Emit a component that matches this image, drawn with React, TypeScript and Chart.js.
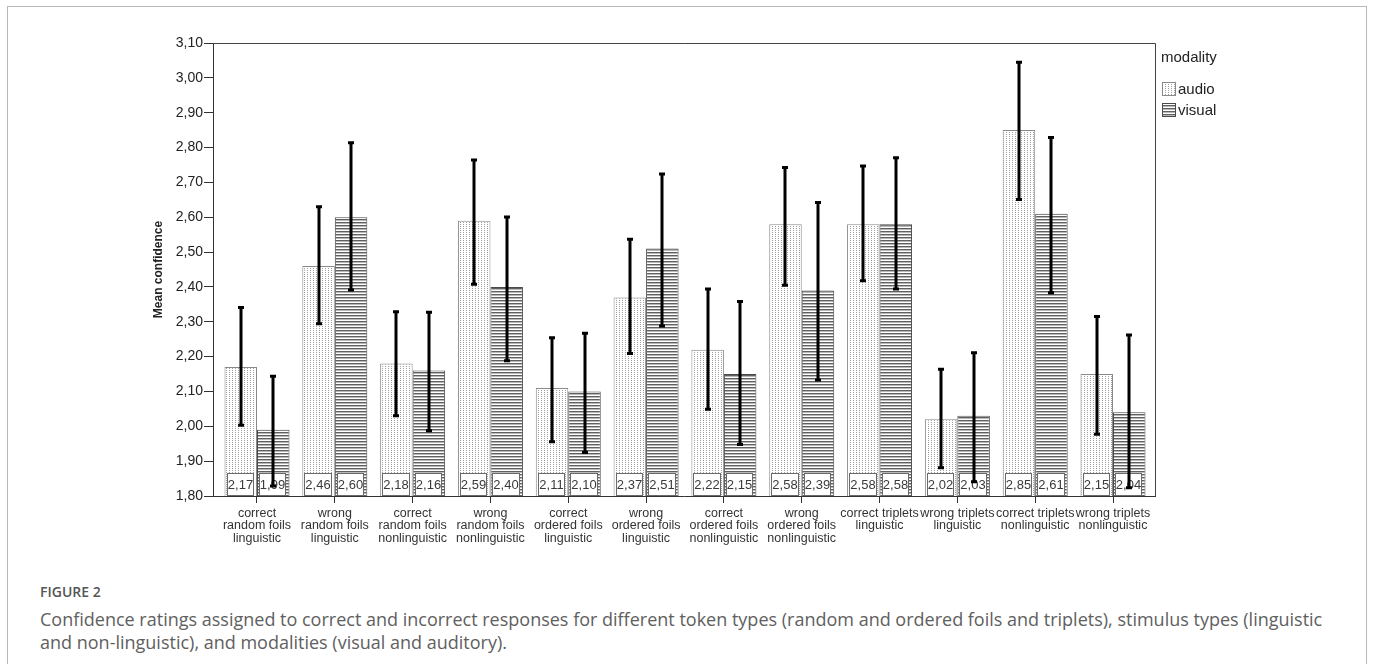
import React, { useEffect, useRef } from 'react';
import { Chart, registerables } from 'chart.js';

Chart.register(...registerables);

const CATEGORIES: string[][] = [
  ['correct', 'random foils', 'linguistic'],
  ['wrong', 'random foils', 'linguistic'],
  ['correct', 'random foils', 'nonlinguistic'],
  ['wrong', 'random foils', 'nonlinguistic'],
  ['correct', 'ordered foils', 'linguistic'],
  ['wrong', 'ordered foils', 'linguistic'],
  ['correct', 'ordered foils', 'nonlinguistic'],
  ['wrong', 'ordered foils', 'nonlinguistic'],
  ['correct triplets', 'linguistic'],
  ['wrong triplets', 'linguistic'],
  ['correct triplets', 'nonlinguistic'],
  ['wrong triplets', 'nonlinguistic'],
];

const SERIES_NAMES = ['audio', 'visual'];
const LEGEND_TITLE = 'modality';

const AUDIO_MEANS = [2.17, 2.46, 2.18, 2.59, 2.11, 2.37, 2.22, 2.58, 2.58, 2.02, 2.85, 2.15];
const VISUAL_MEANS = [1.99, 2.60, 2.16, 2.40, 2.10, 2.51, 2.15, 2.39, 2.58, 2.03, 2.61, 2.04];

const AUDIO_CI_LOW = [2.003, 2.294, 2.030, 2.408, 1.956, 2.209, 2.049, 2.405, 2.418, 1.881, 2.651, 1.977];
const AUDIO_CI_HIGH = [2.341, 2.630, 2.329, 2.764, 2.254, 2.537, 2.394, 2.743, 2.747, 2.164, 3.045, 2.315];
const VISUAL_CI_LOW = [1.829, 2.391, 1.987, 2.188, 1.925, 2.288, 1.948, 2.133, 2.394, 1.841, 2.383, 1.824];
const VISUAL_CI_HIGH = [2.144, 2.814, 2.327, 2.601, 2.267, 2.724, 2.358, 2.642, 2.771, 2.211, 2.829, 2.262];

const Y_TICKS = [1.8, 1.9, 2.0, 2.1, 2.2, 2.3, 2.4, 2.5, 2.6, 2.7, 2.8, 2.9, 3.0, 3.1];
const Y_TITLE = 'Mean confidence';

const CAPTION_LABEL = 'FIGURE 2';
const CAPTION_LINE_1 =
  'Confidence ratings assigned to correct and incorrect responses for different token types (random and ordered foils and triplets), stimulus types (linguistic';
const CAPTION_LINE_2 = 'and non-linguistic), and modalities (visual and auditory).';

const AXIS_FONT = '"Liberation Sans", Arial, Helvetica, sans-serif';

const fmt = (v: number) => v.toFixed(2).replace('.', ',');

function makeDotPattern(): CanvasPattern | string {
  const c = document.createElement('canvas');
  c.width = 3;
  c.height = 2;
  const g = c.getContext('2d');
  if (!g) return '#eee';
  g.fillStyle = '#ffffff';
  g.fillRect(0, 0, 3, 2);
  g.fillStyle = '#a0a0a0';
  g.fillRect(1, 0, 1, 1);
  const p = g.createPattern(c, 'repeat');
  return p || '#eee';
}

function makeStripePattern(): CanvasPattern | string {
  const c = document.createElement('canvas');
  c.width = 2;
  c.height = 3;
  const g = c.getContext('2d');
  if (!g) return '#999';
  g.fillStyle = '#ffffff';
  g.fillRect(0, 0, 2, 3);
  g.fillStyle = '#606060';
  g.fillRect(0, 0, 2, 1);
  g.fillStyle = '#b8b8b8';
  g.fillRect(0, 1, 2, 1);
  const p = g.createPattern(c, 'repeat');
  return p || '#999';
}

export default function App() {
  const canvasRef = useRef<HTMLCanvasElement | null>(null);

  useEffect(() => {
    const canvas = canvasRef.current;
    if (!canvas) return;
    const dotPattern = makeDotPattern();
    const stripePattern = makeStripePattern();

    const lows = [AUDIO_CI_LOW, VISUAL_CI_LOW];
    const highs = [AUDIO_CI_HIGH, VISUAL_CI_HIGH];
    const fills = [dotPattern, stripePattern];
    const borders = ['#8a8a8a', '#4a4a4a'];

    const overlay = {
      id: 'overlay',
      afterDatasetsDraw(chart: any) {
        const ctx: CanvasRenderingContext2D = chart.ctx;
        const area = chart.chartArea;
        const yScale = chart.scales.y;
        ctx.save();
        // value boxes at the bottom of each bar
        chart.data.datasets.forEach((ds: any, di: number) => {
          const meta = chart.getDatasetMeta(di);
          meta.data.forEach((bar: any, i: number) => {
            const { x, width } = bar.getProps(['x', 'width'], true);
            const l = Math.round(x - width / 2 + 2);
            const r = Math.round(x + width / 2 - 3);
            const bottom = Math.round(area.bottom);
            const top = bottom - 23;
            ctx.fillStyle = '#ffffff';
            ctx.fillRect(l, top, r - l, bottom - top);
            ctx.strokeStyle = '#6a6a6a';
            ctx.lineWidth = 1;
            ctx.strokeRect(l + 0.5, top + 0.5, r - l - 1, bottom - top - 1);
            ctx.fillStyle = '#3a3a3a';
            ctx.font = '13px ' + AXIS_FONT;
            ctx.textAlign = 'center';
            ctx.textBaseline = 'middle';
            ctx.fillText(fmt(ds.data[i].y), (l + r) / 2, (top + bottom) / 2 + 1);
          });
        });
        // error bars
        chart.data.datasets.forEach((_ds: any, di: number) => {
          const meta = chart.getDatasetMeta(di);
          meta.data.forEach((bar: any, i: number) => {
            const { x } = bar.getProps(['x'], true);
            const cx = Math.round(x);
            const yl = yScale.getPixelForValue(lows[di][i]);
            const yh = yScale.getPixelForValue(highs[di][i]);
            ctx.strokeStyle = '#000000';
            ctx.lineWidth = 3;
            ctx.beginPath();
            ctx.moveTo(cx, yl);
            ctx.lineTo(cx, yh);
            ctx.stroke();
            ctx.beginPath();
            ctx.moveTo(cx - 3, yl);
            ctx.lineTo(cx + 3, yl);
            ctx.moveTo(cx - 3, yh);
            ctx.lineTo(cx + 3, yh);
            ctx.stroke();
          });
        });
        // frame top & right
        ctx.strokeStyle = '#444444';
        ctx.lineWidth = 1;
        ctx.beginPath();
        ctx.moveTo(area.left, Math.round(area.top) + 0.5);
        ctx.lineTo(Math.round(area.right) + 0.5, Math.round(area.top) + 0.5);
        ctx.lineTo(Math.round(area.right) + 0.5, area.bottom);
        ctx.stroke();
        // legend
        const lx = Math.round(area.right) + 6;
        ctx.fillStyle = '#222222';
        ctx.font = '15px ' + AXIS_FONT;
        ctx.textAlign = 'left';
        ctx.textBaseline = 'middle';
        ctx.fillText(LEGEND_TITLE, lx, 58);
        SERIES_NAMES.forEach((name, k) => {
          const iy = 82 + k * 21;
          ctx.fillStyle = fills[k] as any;
          ctx.fillRect(lx + 1, iy, 14, 14);
          ctx.strokeStyle = borders[k];
          ctx.strokeRect(lx + 1.5, iy + 0.5, 13, 13);
          ctx.fillStyle = '#222222';
          ctx.fillText(name, lx + 17, iy + 8);
        });
        ctx.restore();
      },
    };

    const chart = new Chart(canvas, {
      type: 'bar',
      data: {
        datasets: [
          {
            label: SERIES_NAMES[0],
            data: AUDIO_MEANS.map((v, i) => ({ x: i, y: v })),
            backgroundColor: dotPattern as any,
            borderColor: borders[0],
            borderWidth: 1,
            categoryPercentage: 0.835,
            barPercentage: 1.0,
          },
          {
            label: SERIES_NAMES[1],
            data: VISUAL_MEANS.map((v, i) => ({ x: i, y: v })),
            backgroundColor: stripePattern as any,
            borderColor: borders[1],
            borderWidth: 1,
            categoryPercentage: 0.835,
            barPercentage: 1.0,
          },
        ],
      },
      options: {
        responsive: false,
        animation: false,
        devicePixelRatio: 1,
        layout: { padding: { left: 0, top: 43, right: 218, bottom: 0 } },
        plugins: {
          legend: { display: false },
          tooltip: { enabled: false },
        },
        scales: {
          x: {
            type: 'linear',
            min: -0.5654,
            max: 11.5397,
            offset: false,
            afterBuildTicks: (scale: any) => {
              scale.ticks = CATEGORIES.map((_c, i) => ({ value: i }));
            },
            afterFit: (scale: any) => {
              scale.height = 64;
            },
            grid: {
              offset: false,
              drawOnChartArea: false,
              drawTicks: true,
              tickLength: 7,
              color: '#333333',
            },
            border: { display: true, color: '#333333', width: 1 },
            ticks: {
              autoSkip: false,
              maxRotation: 0,
              minRotation: 0,
              padding: 4,
              color: '#333333',
              font: { family: AXIS_FONT, size: 12.5, lineHeight: 1.0 },
              callback: (value: any) => CATEGORIES[Math.round(Number(value))] || '',
            },
          },
          y: {
            type: 'linear',
            min: 1.8,
            max: 3.1,
            afterBuildTicks: (scale: any) => {
              scale.ticks = Y_TICKS.map((v) => ({ value: v }));
            },
            afterFit: (scale: any) => {
              scale.width = 213;
            },
            grid: {
              drawOnChartArea: false,
              drawTicks: true,
              tickLength: 9,
              color: '#333333',
            },
            border: { display: true, color: '#333333', width: 1 },
            ticks: {
              padding: 1,
              color: '#222222',
              font: { family: AXIS_FONT, size: 14 },
              callback: (value: any) => fmt(Number(value)),
            },
            title: {
              display: true,
              text: Y_TITLE,
              color: '#222222',
              font: { family: AXIS_FONT, size: 12, weight: 'bold' },
              padding: { top: 151, bottom: 0 },
            },
          },
        },
      },
      plugins: [overlay],
    } as any);

    return () => {
      chart.destroy();
    };
  }, []);

  return (
    <div
      style={{
        position: 'absolute',
        left: 0,
        top: 0,
        width: 1373,
        height: 664,
        overflow: 'hidden',
        background: '#ffffff',
      }}
    >
      <div
        style={{
          position: 'absolute',
          left: 7,
          top: 6,
          width: 1358,
          height: 700,
          border: '1px solid #b8b8b8',
          borderBottom: 'none',
        }}
      />
      <canvas
        ref={canvasRef}
        width={1373}
        height={560}
        style={{ position: 'absolute', left: 0, top: 0, width: 1373, height: 560 }}
      />
      <div
        style={{
          position: 'absolute',
          left: 40,
          top: 583,
          fontFamily: '"Open Sans", "Noto Sans", sans-serif',
          fontWeight: 600,
          fontSize: 14,
          lineHeight: '18px',
          color: '#555555',
          whiteSpace: 'nowrap',
        }}
      >
        {CAPTION_LABEL}
      </div>
      <div
        style={{
          position: 'absolute',
          left: 40,
          top: 608,
          fontFamily: '"Open Sans", "Noto Sans", sans-serif',
          fontSize: 18,
          lineHeight: '23px',
          color: '#606060',
          whiteSpace: 'nowrap',
        }}
      >
        {CAPTION_LINE_1}
        <br />
        {CAPTION_LINE_2}
      </div>
    </div>
  );
}
